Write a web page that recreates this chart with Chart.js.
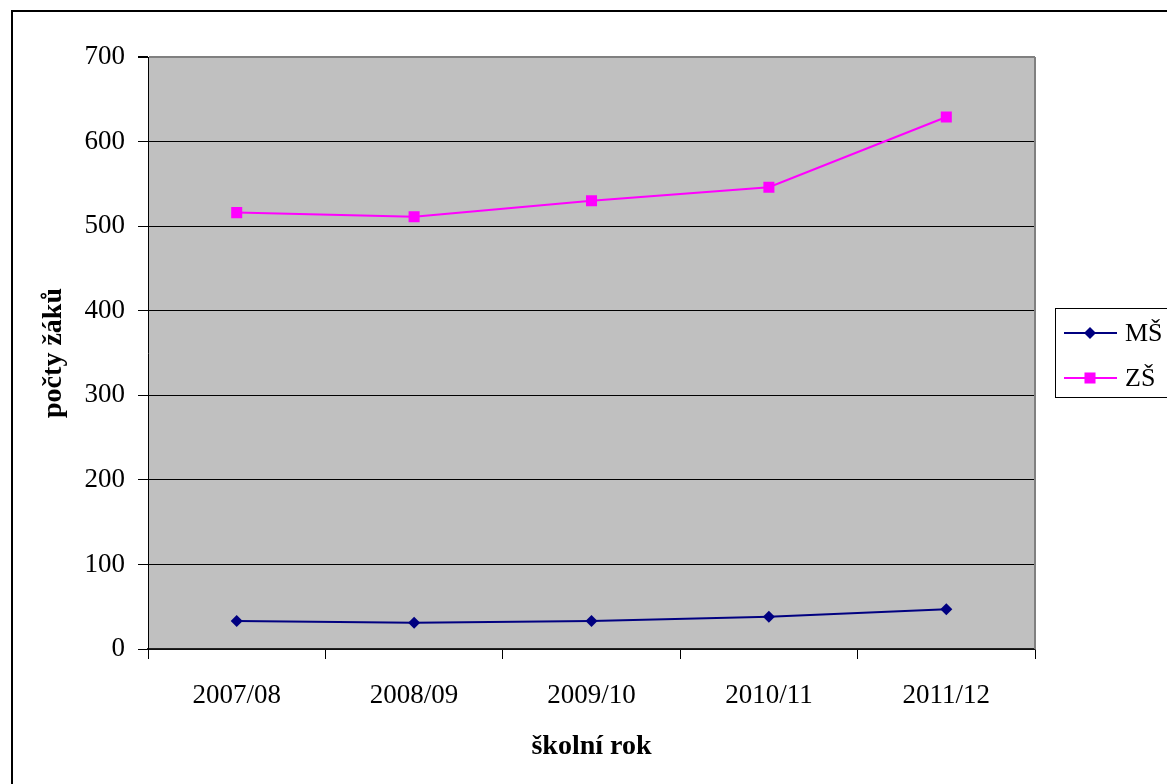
<!DOCTYPE html>
<html>
<head>
<meta charset="utf-8">
<script src="https://cdn.jsdelivr.net/npm/chart.js"></script>
<style>
  html, body { margin: 0; padding: 0; background: #fff; overflow: hidden; }
  #frame {
    position: absolute; left: 11px; top: 10px;
    width: 1300px; height: 900px;
    border: 2px solid #000;
  }
  #chart { position: absolute; left: 0; top: 0; }
</style>
</head>
<body>
<div id="frame"></div>
<canvas id="chart" width="1167" height="784"></canvas>
<script>
const years = ["2007/08", "2008/09", "2009/10", "2010/11", "2011/12"];
const msValues = [33, 31, 33, 38, 47];
const zsValues = [516, 511, 530, 546, 629];
const yTicks = [0, 100, 200, 300, 400, 500, 600, 700];

const serif = "'Liberation Serif', 'Times New Roman', serif";

// grey plot background + grey right edge, like the old Excel look
const plotArea = {
  id: "plotArea",
  beforeDraw(chart) {
    const { ctx, chartArea: a } = chart;
    ctx.save();
    ctx.fillStyle = "#c0c0c0";
    ctx.fillRect(a.left, a.top, a.right - a.left, a.bottom - a.top);
    ctx.restore();
  },
  beforeDatasetsDraw(chart) {
    const { ctx, chartArea: a } = chart;
    ctx.save();
    ctx.strokeStyle = "#808080";
    ctx.lineWidth = 2;
    ctx.beginPath();
    ctx.moveTo(a.right, a.top);
    ctx.lineTo(a.right, a.bottom);
    ctx.stroke();
    ctx.restore();
  },
};

function drawMarker(ctx, style, x, y, r, color) {
  ctx.fillStyle = color;
  ctx.beginPath();
  if (style === "rectRot") {
    ctx.moveTo(x - r, y);
    ctx.lineTo(x, y - r);
    ctx.lineTo(x + r, y);
    ctx.lineTo(x, y + r);
    ctx.closePath();
  } else {
    const s = Math.SQRT1_2 * r;
    ctx.rect(x - s, y - s, 2 * s, 2 * s);
  }
  ctx.fill();
}

// boxed legend on the right
const legendBox = {
  id: "legendBox",
  afterDraw(chart) {
    const { ctx, chartArea: a } = chart;
    const left = a.right + 20;
    const top = 308;
    ctx.save();
    ctx.fillStyle = "#fff";
    ctx.fillRect(left, top, 140, 89);
    ctx.strokeStyle = "#000";
    ctx.lineWidth = 1;
    ctx.strokeRect(left + 0.5, top + 0.5, 140, 89);
    chart.data.datasets.forEach(function (ds, i) {
      const y = top + 25 + i * 45;
      ctx.strokeStyle = ds.borderColor;
      ctx.lineWidth = 2;
      ctx.beginPath();
      ctx.moveTo(left + 9, y);
      ctx.lineTo(left + 62, y);
      ctx.stroke();
      drawMarker(ctx, ds.pointStyle, left + 35, y, ds.pointRadius, ds.pointBackgroundColor);
      ctx.fillStyle = "#000";
      ctx.font = "26px " + serif;
      ctx.textBaseline = "middle";
      ctx.textAlign = "left";
      ctx.fillText(ds.label, left + 70, y + 1);
    });
    ctx.restore();
  },
};

new Chart(document.getElementById("chart").getContext("2d"), {
  type: "line",
  data: {
    labels: years,
    datasets: [
      {
        label: "MŠ",
        data: msValues,
        borderColor: "#000080",
        backgroundColor: "#000080",
        pointBackgroundColor: "#000080",
        pointBorderWidth: 0,
        borderWidth: 2,
        pointStyle: "rectRot",
        pointRadius: 6,
        tension: 0,
      },
      {
        label: "ZŠ",
        data: zsValues,
        borderColor: "#ff00ff",
        backgroundColor: "#ff00ff",
        pointBackgroundColor: "#ff00ff",
        pointBorderWidth: 0,
        borderWidth: 2,
        pointStyle: "rect",
        pointRadius: 7.8,
        tension: 0,
      },
    ],
  },
  options: {
    responsive: false,
    animation: false,
    devicePixelRatio: 1,
    layout: { padding: { left: 20, top: 57, right: 132, bottom: 0 } },
    plugins: {
      legend: { display: false },
      tooltip: { enabled: false },
    },
    scales: {
      x: {
        offset: true,
        afterFit: function (scale) { scale.height = 135; },
        grid: {
          offset: true,
          drawOnChartArea: false,
          drawTicks: true,
          tickLength: 10,
          tickColor: "#000",
        },
        border: { color: "#222", width: 1.5 },
        ticks: {
          color: "#000",
          padding: 21,
          font: { family: serif, size: 27 },
        },
        title: {
          display: true,
          text: "školní rok",
          color: "#000",
          padding: { top: 0, bottom: 20 },
          font: { family: serif, size: 28, weight: "bold" },
        },
      },
      y: {
        min: 0,
        max: 700,
        afterFit: function (scale) { scale.width = 128; },
        afterBuildTicks: function (scale) {
          scale.ticks = yTicks.map(function (v) { return { value: v }; });
        },
        grid: {
          color: function (c) { return c.tick && c.tick.value === 700 ? "#808080" : "#000"; },
          lineWidth: function (c) { return c.tick && c.tick.value === 700 ? 2 : 1; },
          tickColor: "#000",
          tickLength: 10,
        },
        border: { color: "#000", width: 1 },
        ticks: {
          color: "#000",
          padding: 13,
          font: { family: serif, size: 27 },
        },
        title: {
          display: true,
          text: "počty žáků",
          color: "#000",
          padding: { top: 17, bottom: 0 },
          font: { family: serif, size: 28, weight: "bold" },
        },
      },
    },
  },
  plugins: [plotArea, legendBox],
});
</script>
</body>
</html>
